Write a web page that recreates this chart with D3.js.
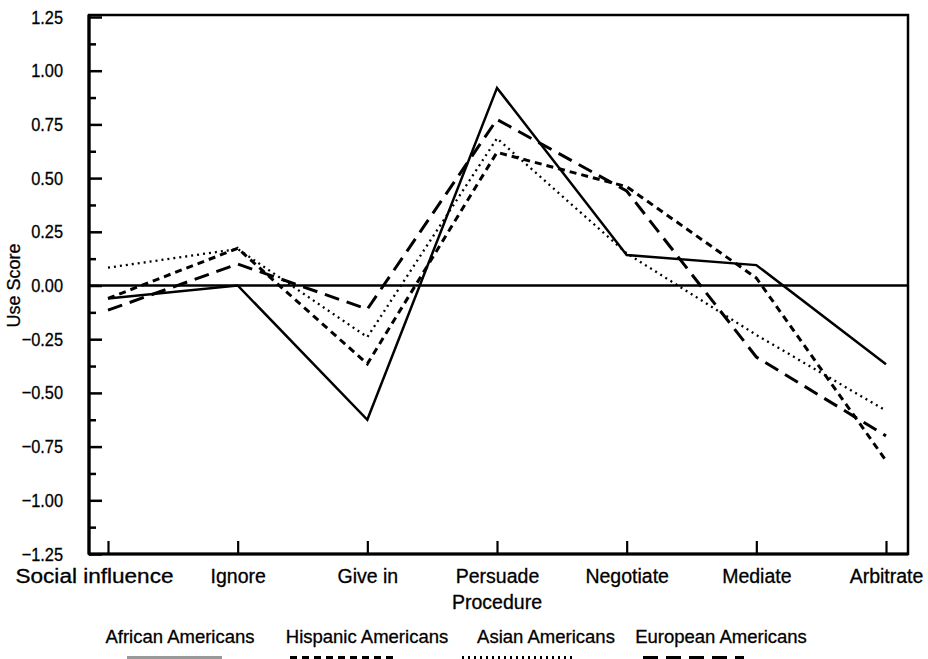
<!DOCTYPE html>
<html><head><meta charset="utf-8">
<script src="https://cdn.jsdelivr.net/npm/d3@7"></script>
<style>body{margin:0;background:#fff}svg{display:block}text{font-family:"Liberation Sans",Arial,sans-serif;fill:#000;stroke:#000;stroke-width:0.3px}</style>
</head><body><svg id="c" width="928" height="659"></svg>
<script>
const categories = ["Social influence","Ignore","Give in","Persuade","Negotiate","Mediate","Arbitrate"];
const seriesNames = ["African Americans","Hispanic Americans","Asian Americans","European Americans"];
const african  = [-0.06, 0.00, -0.625, 0.92, 0.142, 0.095, -0.367];
const hispanic = [-0.06, 0.173, -0.365, 0.62, 0.46, 0.035, -0.815];
const asian    = [0.083, 0.17, -0.24, 0.685, 0.15, -0.23, -0.583];
const european = [-0.115, 0.10, -0.11, 0.773, 0.44, -0.333, -0.70];
const yTicks = [1.25,1.00,0.75,0.50,0.25,0.00,-0.25,-0.50,-0.75,-1.00,-1.25];
const yMinor = [1.125,0.875,0.625,0.375,0.125,-0.125,-0.375,-0.625,-0.875,-1.125];

const svg = d3.select("#c");
const L = 89, R = 908, T = 17, B = 554;
const x = d3.scalePoint().domain(categories).range([108, 886]);
const y = d3.scaleLinear().domain([-1.25, 1.25]).range([B, T]);
const FONT = '"Liberation Sans",Arial,sans-serif';
function condense(sel, f){ sel.each(function(){ const w=this.getComputedTextLength(); d3.select(this).attr("textLength",w*f).attr("lengthAdjust","spacingAndGlyphs"); }); }

// frame
svg.append("rect").attr("x",L).attr("y",T-2).attr("width",R-L).attr("height",B-T+2)
  .attr("fill","none").attr("stroke","#000").attr("stroke-width",2.5);
svg.append("line").attr("x1",L).attr("x2",L).attr("y1",T-2).attr("y2",B).attr("stroke","#000").attr("stroke-width",3.2);
svg.append("line").attr("x1",L).attr("x2",R).attr("y1",B).attr("y2",B).attr("stroke","#000").attr("stroke-width",3);

// y axis
const yAx = svg.append("g").attr("transform",`translate(${L},0)`)
  .call(d3.axisLeft(y).tickValues(yTicks).tickFormat(d3.format(".2f")).tickSizeInner(-13).tickSizeOuter(0).tickPadding(26));
yAx.select(".domain").remove();
yAx.selectAll(".tick line").attr("stroke","#000").attr("stroke-width",2.5);
yAx.selectAll(".tick text").attr("font-size",19).attr("fill","#000").attr("font-family",FONT).call(condense,0.86);
svg.append("g").attr("transform",`translate(${L},0)`)
  .call(d3.axisLeft(y).tickValues(yMinor).tickFormat("").tickSizeInner(-7).tickSizeOuter(0))
  .call(g=>g.select(".domain").remove())
  .selectAll(".tick line").attr("stroke","#000").attr("stroke-width",2.5);

// x axis
const xAx = svg.append("g").attr("transform",`translate(0,${B})`)
  .call(d3.axisBottom(x).tickSizeInner(-13).tickSizeOuter(0).tickPadding(15));
xAx.select(".domain").remove();
xAx.selectAll(".tick line").attr("stroke","#000").attr("stroke-width",2.2);
xAx.selectAll(".tick text").attr("font-size",19.5).attr("fill","#000").attr("font-family",FONT);
xAx.selectAll(".tick text").filter(d=>d==="Social influence")
  .attr("x",-14).attr("textLength",158).attr("lengthAdjust","spacingAndGlyphs");

svg.append("text").attr("x",x("Persuade")).attr("y",609).attr("text-anchor","middle").attr("font-size",19.5).text("Procedure");
svg.append("text").attr("transform",`translate(20,${y(0)}) rotate(-90)`).attr("text-anchor","middle").attr("font-size",18).text("Use Score");

// zero line
svg.append("line").attr("x1",L).attr("x2",R).attr("y1",y(0)).attr("y2",y(0)).attr("stroke","#000").attr("stroke-width",2.5);

const styles = [
  {data:african, dash:null, w:2.5},
  {data:hispanic, dash:"7,5", w:3},
  {data:asian, dash:"2,4", w:2.3},
  {data:european, dash:"15,8", w:3}
];
const line = d3.line().x((d,i)=>x(categories[i])).y(d=>y(d));
styles.forEach(s=>{
  svg.append("path").attr("d",line(s.data)).attr("fill","none").attr("stroke","#000")
    .attr("stroke-width",s.w).attr("stroke-dasharray",s.dash).attr("stroke-linejoin","miter");
});

// legend
const legX = [180, 367, 546, 721];
const legSample = [[127,222],[290,397],[462,573],[643,744]];
seriesNames.forEach((n,i)=>{
  svg.append("text").attr("x",legX[i]).attr("y",643).attr("text-anchor","middle").attr("font-size",18.5).text(n);
  svg.append("line").attr("x1",legSample[i][0]).attr("x2",legSample[i][1]).attr("y1",659).attr("y2",659)
    .attr("stroke", i===0 ? "#999" : "#000").attr("stroke-width",6).attr("stroke-dasharray",styles[i].dash);
});
</script></body></html>
